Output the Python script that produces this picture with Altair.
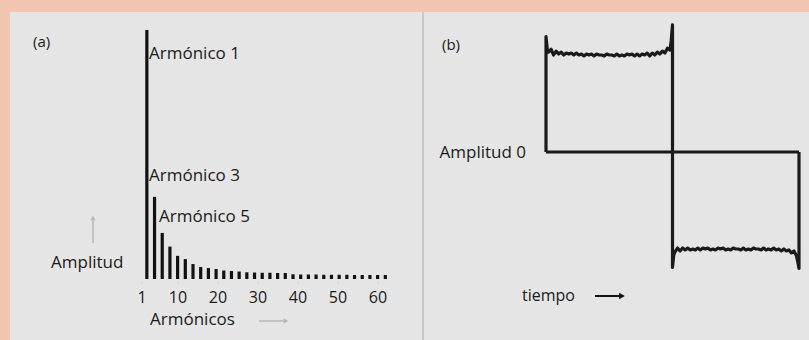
import altair as alt
import pandas as pd

# ---------------- Panel (a): espectro de armónicos ----------------
harmonicos = [1, 3, 5, 7, 9, 11, 13, 15, 17, 19, 21, 23, 25, 27, 29, 31,
              33, 35, 37, 39, 41, 43, 45, 47, 49, 51, 53, 55, 57, 59, 61, 63]
amplitudes = [1.0, 0.33, 0.185, 0.13, 0.093, 0.08, 0.06, 0.048, 0.044, 0.04,
              0.034, 0.032, 0.03, 0.027, 0.026, 0.025, 0.025, 0.024, 0.024, 0.019,
              0.018, 0.018, 0.018, 0.017, 0.017, 0.017, 0.017, 0.016, 0.016, 0.016,
              0.016, 0.016]
tick_labels = [1, 10, 20, 30, 40, 50, 60]

# ---------------- Panel (b): onda cuadrada ----------------
tiempo = [0, 0, 0.5,
          1, 2, 3, 4, 5, 6, 7, 8, 9, 10,
          11, 12, 13, 14, 15, 16, 17, 18, 19, 20,
          21, 22, 23, 24, 25, 26, 27, 28, 29, 30,
          31, 32, 33, 34, 35, 36, 37, 38, 39, 40,
          41, 42, 43, 44, 45, 46, 47, 48, 49,
          49.5, 50,
          50, 50.5,
          51, 52, 53, 54, 55, 56, 57, 58, 59, 60,
          61, 62, 63, 64, 65, 66, 67, 68, 69, 70,
          71, 72, 73, 74, 75, 76, 77, 78, 79, 80,
          81, 82, 83, 84, 85, 86, 87, 88, 89, 90,
          91, 92, 93, 94, 95, 96, 97, 98, 99,
          99.5, 100, 100]
amplitud = [0, 1.19, 1.06,
            1.03, 1.06, 1.00, 1.04, 1.01, 1.03, 1.00, 1.02, 1.01, 1.02,
            1.00, 1.02, 1.00, 1.01, 0.99, 1.01, 1.00, 1.01, 0.99, 1.01,
            1.00, 1.00, 0.99, 1.01, 1.00, 1.00, 0.99, 1.01, 0.99, 1.00,
            0.99, 1.01, 1.00, 1.01, 0.99, 1.01, 0.99, 1.01, 1.00, 1.02,
            0.99, 1.02, 1.00, 1.03, 1.01, 1.04, 1.02, 1.07, 1.05,
            1.15, 1.31,
            -1.19, -1.06,
            -1.03, -0.99, -1.02, -0.99, -1.01, -0.99, -1.01, -1.00, -1.01, -0.99,
            -1.01, -0.99, -1.00, -0.99, -1.01, -1.00, -1.01, -0.99, -1.00, -0.99,
            -1.01, -1.00, -1.01, -0.99, -1.00, -1.00, -1.01, -0.99, -1.01, -1.00,
            -1.01, -0.99, -1.00, -1.00, -1.01, -0.99, -1.01, -1.00, -1.01, -0.99,
            -1.01, -1.00, -1.02, -1.00, -1.02, -1.01, -1.04, -1.02, -1.07,
            -1.13, -1.20, 0]
eje_t = [0, 100]
eje_a = [0, 0]

FONT = "Open Sans"
TXT = "#1a1a1a"
BG = "#f2c5b1"
PANEL = "#e5e5e5"

df_a = pd.DataFrame({"n": harmonicos, "amp": amplitudes})
df_ticks = pd.DataFrame({"t": tick_labels})
df_b = pd.DataFrame({"t": tiempo, "a": amplitud, "idx": list(range(len(tiempo)))})
df_eje = pd.DataFrame({"t": eje_t, "a": eje_a})
one = pd.DataFrame({"k": [0]})

xa = alt.Scale(domain=[0, 65], range=[138, 398])
ya = alt.Scale(domain=[0, 1], range=[279, 30])
xb = alt.Scale(domain=[0, 100], range=[546, 799])
yb = alt.Scale(domain=[-1, 1], range=[249, 55])

panel_a = alt.Chart(one).mark_rect(color=PANEL).encode(
    x=alt.value(10), x2=alt.value(422), y=alt.value(12), y2=alt.value(340))
panel_b = alt.Chart(one).mark_rect(color=PANEL).encode(
    x=alt.value(424), x2=alt.value(809), y=alt.value(12), y2=alt.value(340))
divider = alt.Chart(one).mark_rule(color="#c8c8c8", strokeWidth=2).encode(
    x=alt.value(423), y=alt.value(12), y2=alt.value(340))

bars = alt.Chart(df_a).mark_bar(size=3.2, color="#111111").encode(
    x=alt.X("n:Q", scale=xa, axis=None),
    y=alt.Y("amp:Q", scale=ya, axis=None))

ticks = alt.Chart(df_ticks).mark_tick(color="#cfcfcf", thickness=1, size=4, orient="vertical").encode(
    x=alt.X("t:Q", scale=xa, axis=None), y=alt.value(283))

tick_text = alt.Chart(df_ticks).mark_text(font=FONT, fontSize=16, color=TXT, baseline="middle").encode(
    x=alt.X("t:Q", scale=xa, axis=None), y=alt.value(298), text="t:Q")

def label(txt, x, y, size=17, align="left", color=TXT):
    return alt.Chart(pd.DataFrame({"s": [txt]})).mark_text(
        font=FONT, fontSize=size, color=color, align=align, baseline="middle").encode(
        x=alt.value(x), y=alt.value(y), text="s:N")

labels = [
    label("(a)", 33, 42, 15),
    label("Armónico 1", 149, 54),
    label("Armónico 3", 149, 176),
    label("Armónico 5", 159, 217),
    label("Amplitud", 51, 263),
    label("Armónicos", 150, 320),
    label("(b)", 442, 45, 15),
    label("Amplitud 0", 526, 153, align="right"),
    label("tiempo", 522, 296, 16),
]

GREY_ARROW = "#b8b8b8"
up_shaft = alt.Chart(one).mark_rule(color=GREY_ARROW, strokeWidth=1.5).encode(
    x=alt.value(93), y=alt.value(243), y2=alt.value(219))
up_head = alt.Chart(one).mark_point(shape="triangle-up", filled=True, color=GREY_ARROW, size=30, opacity=1).encode(
    x=alt.value(93), y=alt.value(218))
r_shaft = alt.Chart(one).mark_rule(color=GREY_ARROW, strokeWidth=1.5).encode(
    x=alt.value(259), x2=alt.value(284), y=alt.value(321))
r_head = alt.Chart(one).mark_point(shape="triangle-right", filled=True, color=GREY_ARROW, size=30, opacity=1).encode(
    x=alt.value(286), y=alt.value(321))
t_shaft = alt.Chart(one).mark_rule(color="#111111", strokeWidth=2).encode(
    x=alt.value(595), x2=alt.value(620), y=alt.value(296))
t_head = alt.Chart(one).mark_point(shape="triangle-right", filled=True, color="#111111", size=45, opacity=1).encode(
    x=alt.value(622), y=alt.value(296))

eje = alt.Chart(df_eje).mark_line(color="#1a1a1a", strokeWidth=3).encode(
    x=alt.X("t:Q", scale=xb, axis=None), y=alt.Y("a:Q", scale=yb, axis=None))
wave = alt.Chart(df_b).mark_line(color="#1a1a1a", strokeWidth=3.2, strokeJoin="round").encode(
    x=alt.X("t:Q", scale=xb, axis=None), y=alt.Y("a:Q", scale=yb, axis=None),
    order="idx:Q")

chart = alt.layer(
    panel_a, panel_b, divider,
    ticks, bars, tick_text,
    *labels,
    up_shaft, up_head, r_shaft, r_head, t_shaft, t_head,
    eje, wave,
).resolve_scale(x="independent", y="independent").properties(
    width=809, height=340, autosize=alt.AutoSizeParams(type="none"),
    padding=0, background=BG,
).configure_view(stroke=None)

chart.save("out.html", embed_options={"renderer": "svg", "actions": False})
